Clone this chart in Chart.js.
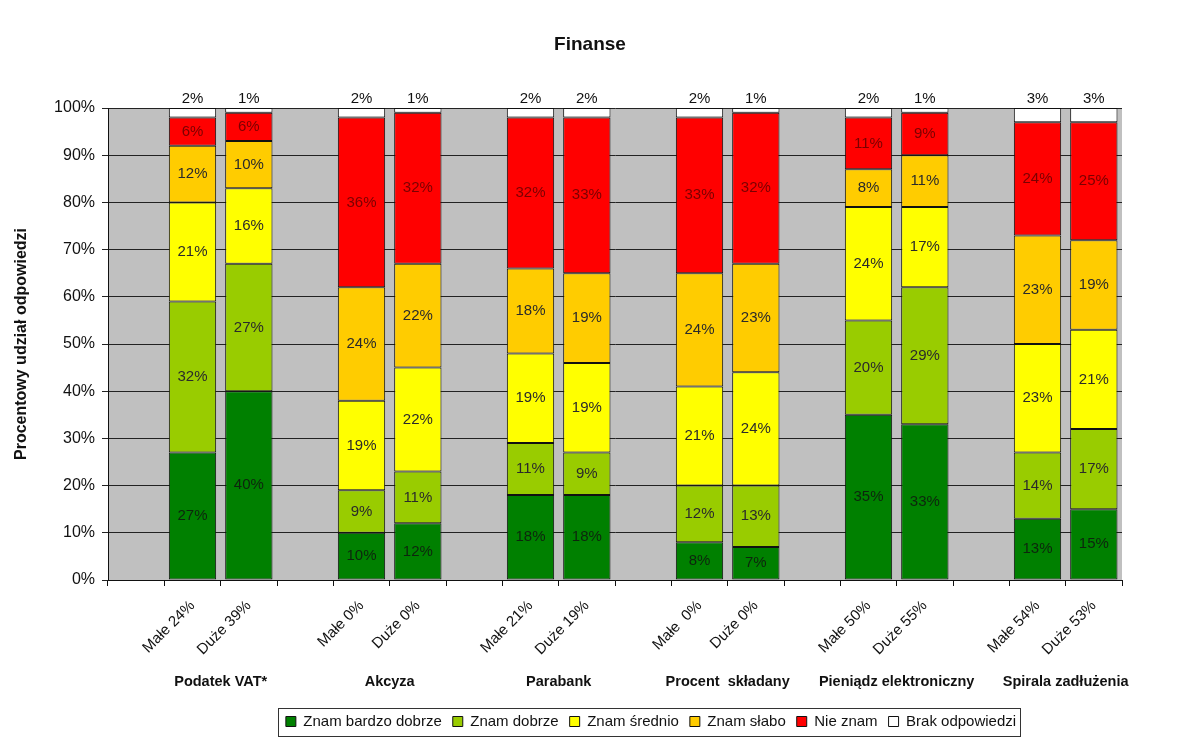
<!DOCTYPE html>
<html>
<head>
<meta charset="utf-8">
<script src="https://cdn.jsdelivr.net/npm/chart.js@4.4.1/dist/chart.umd.min.js"></script>
<style>
  html, body { margin: 0; padding: 0; background: #fff; }
  #wrap { width: 1180px; height: 744px; }
</style>
</head>
<body>
<div id="wrap"><canvas id="financeChart"></canvas></div>
<script>
// topics (each has a "Małe" and a "Duże" bar)
const groups = ['Podatek VAT*', 'Akcyza', 'Parabank', 'Procent  składany', 'Pieniądz elektroniczny', 'Spirala zadłużenia'];
const barLabels = ['Małe 24%', 'Duże 39%', 'Małe 0%', 'Duże 0%', 'Małe 21%', 'Duże 19%',
                   'Małe  0%', 'Duże 0%', 'Małe 50%', 'Duże 55%', 'Małe 54%', 'Duże 53%'];

const seriesNames = ['Znam bardzo dobrze', 'Znam dobrze', 'Znam średnio', 'Znam słabo', 'Nie znam', 'Brak odpowiedzi'];
const seriesColors = ['#008000', '#99cc00', '#ffff00', '#ffcc00', '#ff0000', '#ffffff'];

// values in %, bottom to top
const bardzoDobrze = [27, 40, 10, 12, 18, 18, 8, 7, 35, 33, 13, 15];
const dobrze       = [32, 27, 9, 11, 11, 9, 12, 13, 20, 29, 14, 17];
const srednio      = [21, 16, 19, 22, 19, 19, 21, 24, 24, 17, 23, 21];
const slabo        = [12, 10, 24, 22, 18, 19, 24, 23, 8, 11, 23, 19];
const nieZnam      = [6, 6, 36, 32, 32, 33, 33, 32, 11, 9, 24, 25];
const brak         = [2, 1, 2, 1, 2, 2, 2, 1, 2, 1, 3, 3];

const allSeries = [bardzoDobrze, dobrze, srednio, slabo, nieZnam, brak];

// empty slot before every pair of bars
function spread(arr) {
    const out = [];
    for (let g = 0; g < groups.length; g++) {
        out.push(null, arr[g * 2], arr[g * 2 + 1]);
    }
    return out;
}
const categories = spread(barLabels).map(x => x === null ? '' : x);

const fontFam = '"Liberation Sans", Arial, sans-serif';

const plotBg = {
    id: 'plotBg',
    afterLayout(chart) {
        // the legend sits a bit right of centre in the original
        const lg = chart.legend;
        if (lg) {
            lg.left += 86;
            lg.right += 86;
        }
    },
    beforeDraw(chart) {
        const { ctx, chartArea: a } = chart;
        ctx.save();
        ctx.fillStyle = '#c0c0c0';
        ctx.fillRect(a.left, a.top, a.right - a.left, a.bottom - a.top);
        // title, centred on the whole page
        ctx.font = 'bold 19px ' + fontFam;
        ctx.fillStyle = '#111';
        ctx.textAlign = 'center';
        ctx.textBaseline = 'middle';
        ctx.fillText('Finanse', chart.width / 2, 45);
        ctx.restore();
    }
};

const valueLabels = {
    id: 'valueLabels',
    afterDatasetsDraw(chart) {
        const ctx = chart.ctx;
        ctx.save();
        ctx.font = '15px ' + fontFam;
        ctx.textAlign = 'center';
        chart.data.datasets.forEach((ds, i) => {
            const meta = chart.getDatasetMeta(i);
            meta.data.forEach((el, j) => {
                const v = ds.data[j];
                if (v === null || v === undefined) return;
                const txt = Math.round(v) + '%';
                if (i === 5) {
                    ctx.fillStyle = '#111';
                    ctx.textBaseline = 'bottom';
                    ctx.fillText(txt, el.x, el.y - 2);
                } else {
                    ctx.fillStyle = i === 4 ? '#7a0000' : (i === 0 ? '#0d250d' : '#2a2a2a');
                    ctx.textBaseline = 'middle';
                    ctx.fillText(txt, el.x, (el.y + el.base) / 2);
                }
            });
        });
        // group names under the rotated labels
        const xs = chart.scales.x;
        ctx.font = 'bold 14.5px ' + fontFam;
        ctx.fillStyle = '#111';
        ctx.textBaseline = 'middle';
        groups.forEach((g, k) => {
            const x = (xs.getPixelForValue(k * 3 + 1) + xs.getPixelForValue(k * 3 + 2)) / 2;
            ctx.fillText(g, x, 682);
        });
        ctx.restore();
    }
};

const legendFrame = {
    id: 'legendFrame',
    afterDraw(chart) {
        const lg = chart.legend;
        if (!lg || !lg.legendHitBoxes.length) return;
        const boxes = lg.legendHitBoxes;
        const left = Math.min(...boxes.map(b => b.left)) - 8;
        const right = Math.max(...boxes.map(b => b.left + b.width)) + 4;
        const top = Math.min(...boxes.map(b => b.top)) - 6;
        const bottom = Math.max(...boxes.map(b => b.top + b.height)) + 7;
        const ctx = chart.ctx;
        ctx.save();
        ctx.strokeStyle = '#333';
        ctx.lineWidth = 1;
        ctx.strokeRect(Math.round(left) + 0.5, Math.round(top) + 0.5, Math.round(right - left), Math.round(bottom - top));
        ctx.restore();
    }
};

new Chart(document.getElementById('financeChart'), {
    type: 'bar',
    data: {
        labels: categories,
        datasets: allSeries.map((s, i) => ({
            label: seriesNames[i],
            data: spread(s),
            backgroundColor: seriesColors[i],
            borderColor: '#111',
            borderWidth: 1,
            borderSkipped: false,
            barPercentage: 0.84,
            categoryPercentage: 1.0
        }))
    },
    options: {
        responsive: true,
        maintainAspectRatio: false,
        animation: false,
        layout: { padding: { left: 8, right: 58, top: 108, bottom: 5 } },
        plugins: {
            title: { display: false },
            legend: {
                position: 'bottom',
                labels: {
                    color: '#111',
                    font: { family: fontFam, size: 15 },
                    boxWidth: 10,
                    boxHeight: 10,
                    padding: 11
                }
            },
            tooltip: { enabled: false }
        },
        scales: {
            x: {
                stacked: true,
                grid: { drawOnChartArea: false, tickLength: 6, color: '#111' },
                border: { color: '#111' },
                ticks: {
                    autoSkip: false,
                    maxRotation: 45,
                    minRotation: 45,
                    padding: 11,
                    color: '#111',
                    font: { family: fontFam, size: 15 }
                },
                afterFit: s => { s.height = 123; }
            },
            y: {
                stacked: true,
                min: 0,
                max: 100,
                grid: { color: '#222', tickLength: 6 },
                border: { color: '#111' },
                ticks: {
                    stepSize: 10,
                    padding: 7,
                    color: '#111',
                    font: { family: fontFam, size: 16 },
                    callback: v => v + '%'
                },
                title: {
                    display: true,
                    text: 'Procentowy udział odpowiedzi',
                    color: '#111',
                    font: { family: fontFam, size: 16, weight: 'bold' }
                },
                afterFit: s => { s.width = 100; }
            }
        }
    },
    plugins: [plotBg, valueLabels, legendFrame]
});
</script>
</body>
</html>
